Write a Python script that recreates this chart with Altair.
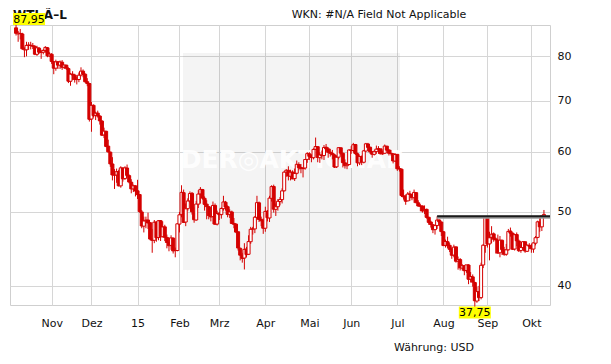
import altair as alt
import pandas as pd

RED = "#d40000"

first_day = "2014-10-09"
last_day = "2015-10-09"
holidays = ["2014-11-27", "2014-12-25", "2015-01-01", "2015-01-19", "2015-02-16",
            "2015-04-03", "2015-05-25", "2015-07-03", "2015-09-07"]

opens = [
    # Okt 14
    87.2, 85.6, 85.7, 85.6, 81.6, 81.6, 82.7, 82.7, 82.6, 82.4, 80.5, 82.0, 81.0, 81.0, 81.4, 82.1, 80.1,
    # Nov
    80.5, 78.7, 77.2, 78.7, 77.9, 78.6, 77.4, 77.9, 77.1, 74.2, 75.8, 75.6, 74.6, 74.6, 75.6, 76.5, 75.8, 74.1, 73.7,
    # Dez
    66.2, 69.0, 66.9, 67.4, 66.8, 65.8, 63.1, 63.8, 61.0, 59.9, 57.8, 55.9, 55.9, 56.5, 54.1, 57.1, 55.3, 57.1, 55.8, 54.7, 53.6, 54.1,
    # Jan
    53.3, 52.7, 50.0, 47.9, 48.7, 48.8, 48.4, 46.1, 45.9, 48.5, 46.3, 48.7, 46.4, 47.8, 46.3, 45.6, 45.2, 46.2, 44.5, 44.5,
    # Feb
    48.2, 49.6, 53.0, 48.5, 50.5, 51.7, 52.9, 50.0, 48.8, 51.2, 52.8, 53.5, 52.1, 51.2, 50.8, 49.4, 49.3, 51.0, 48.2,
    # Mrz
    49.8, 49.6, 50.5, 51.5, 50.8, 49.6, 50.0, 48.3, 48.2, 47.1, 44.8, 43.9, 43.5, 44.7, 44.0, 45.7, 47.5, 47.5, 49.2, 51.4, 48.9, 48.7,
    # Apr
    47.6, 50.1, 49.1, 52.1, 54.0, 50.4, 50.8, 51.6, 51.9, 53.3, 56.4, 56.7, 55.7, 56.4, 55.3, 56.2, 57.7, 57.2, 57.0, 57.1, 58.6,
    # Mai
    59.6, 59.2, 58.9, 60.4, 60.9, 58.9, 59.4, 59.3, 60.8, 60.5, 59.9, 59.7, 59.4, 57.3, 59.0, 60.7, 59.7, 58.0, 57.5, 57.7,
    # Jun
    60.3, 60.2, 61.3, 59.6, 58.0, 59.1, 58.1, 60.1, 61.4, 60.8, 60.0, 59.5, 60.0, 60.5, 60.5, 59.6, 59.7, 61.0, 60.3, 59.7, 59.6, 58.3,
    # Jul
    59.5, 57.0, 56.9, 52.5, 52.3, 51.7, 52.8, 52.7, 52.2, 53.0, 51.4, 50.9, 50.9, 50.2, 50.4, 49.2, 48.5, 48.1, 47.4, 48.0, 48.8, 48.5,
    # Aug
    47.1, 45.2, 45.7, 45.2, 44.7, 43.9, 45.0, 43.1, 43.3, 42.2, 42.5, 41.9, 42.6, 40.8, 41.1, 40.4, 38.2, 39.3, 38.6, 42.6, 45.2,
    # Sep
    49.2, 45.4, 46.3, 46.8, 46.1, 45.9, 44.2, 45.9, 44.6, 44.0, 44.6, 47.2, 46.9, 44.7, 46.7, 45.8, 44.5, 44.9, 45.7, 44.4, 45.2,
    # Okt 15
    45.1, 44.7, 45.5, 46.3, 48.5, 47.8, 49.4,
]
highs = [
    87.95, 86.4, 86.9, 85.9, 82.2, 83.6, 83.5, 83.6, 83.3, 82.8, 82.6, 82.3, 81.6, 81.8, 82.5, 82.3, 81.0,
    80.8, 78.9, 79.2, 78.9, 79.0, 79.1, 78.0, 78.0, 77.4, 76.1, 76.5, 75.9, 75.2, 76.2, 77.4, 76.9, 76.0, 74.9, 73.7,
    69.7, 69.2, 67.7, 67.9, 67.0, 66.0, 64.5, 63.9, 62.2, 60.0, 59.0, 56.9, 57.0, 56.8, 57.4, 57.2, 57.4, 57.7, 56.0, 55.2, 54.3, 54.2,
    55.1, 52.7, 50.3, 49.3, 49.3, 49.9, 48.5, 47.5, 48.8, 48.6, 48.8, 48.8, 48.6, 48.1, 46.7, 46.3, 46.6, 46.3, 44.9, 48.3,
    50.0, 54.2, 53.5, 51.3, 52.1, 53.2, 53.1, 50.7, 51.7, 53.4, 53.9, 53.6, 52.4, 51.8, 50.9, 50.7, 51.6, 51.3, 50.2,
    50.0, 50.7, 52.5, 51.7, 51.0, 50.4, 50.2, 49.1, 48.3, 47.1, 44.9, 44.2, 45.5, 45.0, 46.6, 47.8, 47.8, 49.4, 52.5, 51.6, 49.3, 49.0,
    50.8, 50.3, 52.5, 54.2, 54.3, 51.3, 52.0, 52.3, 53.7, 56.6, 56.9, 57.4, 56.8, 56.7, 57.0, 58.4, 58.1, 57.8, 57.1, 58.6, 59.9,
    59.9, 59.5, 60.6, 62.6, 61.0, 59.9, 60.2, 61.2, 61.4, 60.8, 60.5, 60.3, 59.6, 59.3, 60.7, 60.7, 59.8, 58.6, 57.9, 60.4,
    61.0, 61.6, 61.4, 59.8, 59.3, 59.3, 60.3, 61.6, 61.6, 60.9, 60.0, 60.3, 61.1, 61.0, 60.5, 60.2, 61.3, 61.0, 60.4, 60.3, 59.7, 59.7,
    59.5, 57.4, 57.0, 53.5, 52.7, 53.1, 53.3, 52.8, 53.5, 53.1, 51.8, 51.2, 51.0, 51.0, 50.5, 49.3, 48.7, 48.2, 47.7, 49.35, 48.9, 48.6,
    47.2, 46.0, 46.4, 45.5, 44.9, 45.3, 45.0, 43.7, 43.5, 42.7, 42.6, 42.6, 42.7, 41.7, 41.4, 40.5, 39.9, 40.0, 42.9, 45.4, 49.35,
    49.3, 47.1, 47.9, 47.0, 46.3, 46.7, 46.5, 46.0, 45.0, 45.4, 47.5, 47.7, 47.0, 46.8, 47.0, 46.0, 45.3, 45.8, 45.7, 45.3, 45.5,
    45.4, 45.6, 46.5, 48.7, 49.3, 49.4, 50.3,
]
lows = [
    85.2, 83.6, 84.2, 81.6, 79.8, 80.0, 81.6, 81.7, 81.8, 80.3, 80.1, 80.6, 79.4, 80.5, 80.9, 79.8, 79.9,
    78.2, 75.8, 76.6, 77.0, 77.0, 76.8, 77.0, 76.8, 73.8, 73.2, 74.5, 73.9, 73.5, 74.0, 75.3, 75.1, 73.9, 73.1, 65.7,
    63.7, 66.5, 66.0, 66.5, 65.1, 62.9, 62.5, 60.8, 59.8, 57.3, 55.0, 53.6, 54.6, 54.0, 53.8, 54.8, 55.1, 55.6, 54.5, 52.9, 53.1, 52.4,
    52.0, 49.9, 47.6, 47.0, 47.6, 47.5, 45.9, 44.2, 45.5, 45.7, 45.9, 45.8, 46.3, 45.8, 44.8, 44.4, 44.6, 44.1, 43.6, 44.4,
    47.0, 49.2, 48.4, 47.9, 50.2, 51.3, 49.6, 48.4, 48.7, 50.6, 51.3, 51.9, 50.2, 48.9, 48.9, 48.6, 48.2, 48.2, 48.0,
    48.8, 49.0, 50.2, 50.2, 49.2, 49.1, 48.2, 47.6, 46.9, 44.5, 43.2, 42.9, 42.03, 43.6, 43.9, 45.4, 46.7, 46.9, 48.9, 48.5, 47.9, 46.8,
    47.1, 48.6, 48.5, 51.6, 49.9, 49.4, 50.2, 51.0, 51.3, 53.2, 55.6, 55.0, 55.0, 55.2, 54.9, 56.0, 56.7, 56.2, 55.5, 56.8, 58.0,
    58.5, 58.1, 58.6, 60.3, 58.1, 58.0, 58.6, 58.5, 60.1, 58.9, 59.1, 58.6, 57.1, 57.1, 58.6, 59.3, 57.2, 57.0, 56.9, 57.6,
    59.6, 59.8, 59.4, 57.4, 57.6, 57.6, 57.9, 60.0, 60.3, 59.6, 58.9, 59.3, 59.6, 59.6, 59.5, 59.4, 59.6, 60.1, 59.3, 59.3, 57.9, 58.2,
    56.6, 56.5, 52.3, 51.9, 51.1, 51.7, 51.7, 51.8, 51.4, 51.4, 50.8, 50.1, 49.9, 49.7, 49.0, 48.1, 47.7, 46.9, 46.7, 47.5, 47.9, 46.5,
    45.1, 44.9, 44.8, 44.3, 43.4, 43.6, 42.9, 42.0, 41.9, 41.9, 41.3, 41.6, 40.2, 40.4, 39.9, 37.75, 38.0, 38.2, 38.4, 42.2, 44.2,
    44.9, 43.2, 45.5, 45.7, 44.1, 44.1, 43.6, 43.9, 43.8, 43.8, 44.5, 46.4, 44.6, 44.5, 45.1, 44.3, 44.2, 44.6, 44.2, 44.3, 44.7,
    44.2, 44.2, 45.2, 46.2, 47.1, 47.2, 49.2,
]
closes = [
    85.77, 85.82, 85.74, 81.84, 81.78, 82.70, 82.75, 82.71, 82.49, 80.52, 82.09, 81.01, 81.00, 81.42, 82.20, 80.12, 80.54,
    78.78, 77.19, 78.68, 77.91, 78.65, 77.40, 77.94, 77.18, 74.21, 75.82, 75.64, 74.61, 74.58, 75.58, 76.51, 75.78, 74.09, 73.69, 66.15,
    69.00, 66.88, 67.38, 66.81, 65.84, 63.05, 63.82, 60.94, 59.95, 57.81, 55.91, 55.93, 56.47, 54.11, 57.13, 55.26, 57.12, 55.84, 54.73, 53.61, 54.12, 53.27,
    52.69, 50.04, 47.93, 48.65, 48.79, 48.36, 46.07, 45.89, 48.48, 46.25, 48.69, 46.39, 47.78, 46.31, 45.59, 45.15, 46.23, 44.45, 44.53, 48.24,
    49.57, 53.05, 48.45, 50.48, 51.69, 52.86, 50.02, 48.84, 51.21, 52.78, 53.53, 52.14, 51.16, 50.81, 49.45, 49.25, 50.99, 48.17, 49.76,
    49.59, 50.52, 51.53, 50.76, 49.61, 50.00, 48.29, 48.17, 47.05, 44.84, 43.88, 43.46, 44.66, 43.96, 45.72, 47.45, 47.51, 49.21, 51.43, 48.87, 48.68, 47.60,
    50.09, 49.14, 52.14, 53.98, 50.42, 50.79, 51.64, 51.91, 53.29, 56.39, 56.71, 55.74, 56.38, 55.26, 56.16, 57.74, 57.15, 56.99, 57.06, 58.58, 59.63,
    59.15, 58.93, 60.40, 60.93, 58.94, 59.39, 59.25, 60.75, 60.50, 59.88, 59.69, 59.43, 57.26, 58.98, 60.72, 59.72, 58.03, 57.51, 57.68, 60.30,
    60.20, 61.26, 59.64, 58.00, 59.13, 58.14, 60.14, 61.43, 60.77, 59.96, 59.52, 59.97, 60.45, 60.45, 59.61, 59.68, 61.01, 60.27, 59.70, 59.63, 58.33, 59.47,
    56.96, 56.93, 52.53, 52.33, 51.65, 52.78, 52.74, 52.20, 53.04, 51.41, 50.91, 50.89, 50.15, 50.36, 49.19, 48.45, 48.14, 47.39, 47.98, 48.79, 48.52, 47.12,
    45.17, 45.74, 45.15, 44.66, 43.87, 44.96, 43.08, 43.30, 42.23, 42.50, 41.87, 42.62, 40.80, 41.14, 40.45, 38.24, 39.31, 38.60, 42.56, 45.22, 49.20,
    45.41, 46.25, 46.75, 46.05, 45.94, 44.15, 45.92, 44.63, 44.00, 44.59, 47.15, 46.90, 44.68, 46.68, 45.83, 44.48, 44.91, 45.70, 44.43, 45.23, 45.09,
    44.74, 45.54, 46.26, 48.53, 47.81, 49.43, 49.63,
]

month_labels = ["Nov", "Dez", "15", "Feb", "Mrz", "Apr", "Mai", "Jun", "Jul", "Aug", "Sep", "Okt"]
y_ticks = [40, 50, 60, 70, 80]
resist_level = 49.35
resist_start = "2015-07-29"

title_text = "WTI-Ã–L"
wkn_text = "WKN: #N/A Field Not Applicable"
currency_text = "Währung: USD"
watermark_text = "DER◎AKTIONÄR"

FONT = "DejaVu Sans"

days = pd.bdate_range(first_day, last_day)
days = days[~days.isin(pd.to_datetime(holidays))]
n = len(days)
assert n == len(opens) == len(highs) == len(lows) == len(closes), (n, len(opens), len(highs), len(lows), len(closes))

df = pd.DataFrame({"date": days, "i": range(n), "open": opens, "high": highs,
                   "low": lows, "close": closes})

tick_idx = df.groupby(df["date"].dt.to_period("M"))["i"].min().tolist()[1:]
label_expr = ("[" + ",".join(f"'{m}'" for m in month_labels) + "][indexof(["
              + ",".join(str(t) for t in tick_idx) + "], datum.value)]")

xs = alt.Scale(domain=[-0.5, n - 0.5], nice=False, zero=False)
ys = alt.Scale(type="log", domain=[min(lows), max(highs)], nice=False)

xaxis = alt.Axis(values=tick_idx, labelExpr=label_expr, grid=True, ticks=False, domain=False,
                 labelPadding=12, title=None, labelFont=FONT, labelFontSize=11, labelColor="#111")
yaxis = alt.Axis(orient="right", values=y_ticks, grid=True, ticks=False, domain=False,
                 labelPadding=7, title=None, format="d", labelFont=FONT, labelFontSize=11,
                 labelColor="#111")

one = pd.DataFrame({"k": [0]})

bg = alt.Chart(one).mark_rect(color="#000000", opacity=0.045).encode(
    x=alt.value(173), x2=alt.value(390), y=alt.value(28), y2=alt.value(245))
wm = alt.Chart(one).mark_text(text=watermark_text, font=FONT, fontSize=25, fontWeight="bold",
                              color="#ffffff", opacity=0.9).encode(x=alt.value(283), y=alt.value(135))

wicks = alt.Chart(df).mark_rule(color=RED, strokeWidth=1).encode(
    x=alt.X("i:Q", scale=xs, axis=xaxis),
    y=alt.Y("low:Q", scale=ys, axis=yaxis),
    y2="high:Q")
bodies = alt.Chart(df).mark_bar(width=3, stroke=RED, strokeWidth=1).encode(
    x="i:Q", y="open:Q", y2="close:Q",
    fill=alt.condition("datum.close > datum.open", alt.value("#ffffff"), alt.value(RED)))

start_i = int(df.loc[df["date"] == pd.Timestamp(resist_start), "i"].iloc[0])
res_df = pd.DataFrame({"i": [start_i], "v": [resist_level]})
res_shadow = alt.Chart(res_df).mark_rule(color="#9a9a9a", strokeWidth=3, yOffset=1).encode(
    x="i:Q", x2=alt.value(540), y="v:Q")
res_line = alt.Chart(res_df).mark_rule(color="#1a1a1a", strokeWidth=2).encode(
    x="i:Q", x2=alt.value(540), y="v:Q")

def fmt(v):
    return f"{v:.2f}".replace(".", ",")

hi_row = df.loc[df["high"].idxmax()]
lo_row = df.loc[df["low"].idxmin()]
hi_df = pd.DataFrame({"i": [int(hi_row["i"])], "v": [hi_row["high"]], "t": [fmt(hi_row["high"])]})
lo_df = pd.DataFrame({"i": [int(lo_row["i"])], "v": [lo_row["low"]], "t": [fmt(lo_row["low"])]})

hi_box = alt.Chart(hi_df).mark_rect(width=32, height=12, color="#ffff00", xOffset=13, yOffset=-6).encode(
    x="i:Q", y="v:Q")
hi_txt = alt.Chart(hi_df).mark_text(font=FONT, fontSize=11, color="#000", xOffset=13, yOffset=-5.5).encode(
    x="i:Q", y="v:Q", text="t:N")
lo_tick = alt.Chart(lo_df).mark_rule(color=RED, strokeWidth=1).encode(
    x="i:Q", y="v:Q", y2=alt.value(282))
lo_box = alt.Chart(lo_df).mark_rect(width=32, height=12, color="#ffff00", yOffset=7.5).encode(
    x="i:Q", y="v:Q")
lo_txt = alt.Chart(lo_df).mark_text(font=FONT, fontSize=11, color="#000", yOffset=8).encode(
    x="i:Q", y="v:Q", text="t:N")

title = alt.Chart(one).mark_text(text=title_text, font=FONT, fontSize=12, fontWeight="bold",
                                 align="left", baseline="alphabetic", color="#111").encode(
    x=alt.value(3), y=alt.value(-6))
wkn = alt.Chart(one).mark_text(text=wkn_text, font=FONT, fontSize=11, align="center",
                               baseline="alphabetic", color="#111").encode(
    x=alt.value(369), y=alt.value(-7))
cur = alt.Chart(one).mark_text(text=currency_text, font=FONT, fontSize=11, align="center",
                               baseline="middle", color="#111").encode(
    x=alt.value(424), y=alt.value(323))

chart = alt.layer(
    bg, wm, wicks, bodies, res_shadow, res_line, title, hi_box, hi_txt, lo_tick, lo_box, lo_txt, wkn, cur
).properties(
    width=540, height=280,
    padding={"left": 2, "top": 17, "right": 53, "bottom": 51},
    autosize=alt.AutoSizeParams(type="none"),
).configure_view(stroke="#cfcfcf", strokeWidth=1).configure_axis(gridColor="#d6d6d6", gridWidth=1)

chart.save("out.html", embed_options={"renderer": "svg", "actions": False})
